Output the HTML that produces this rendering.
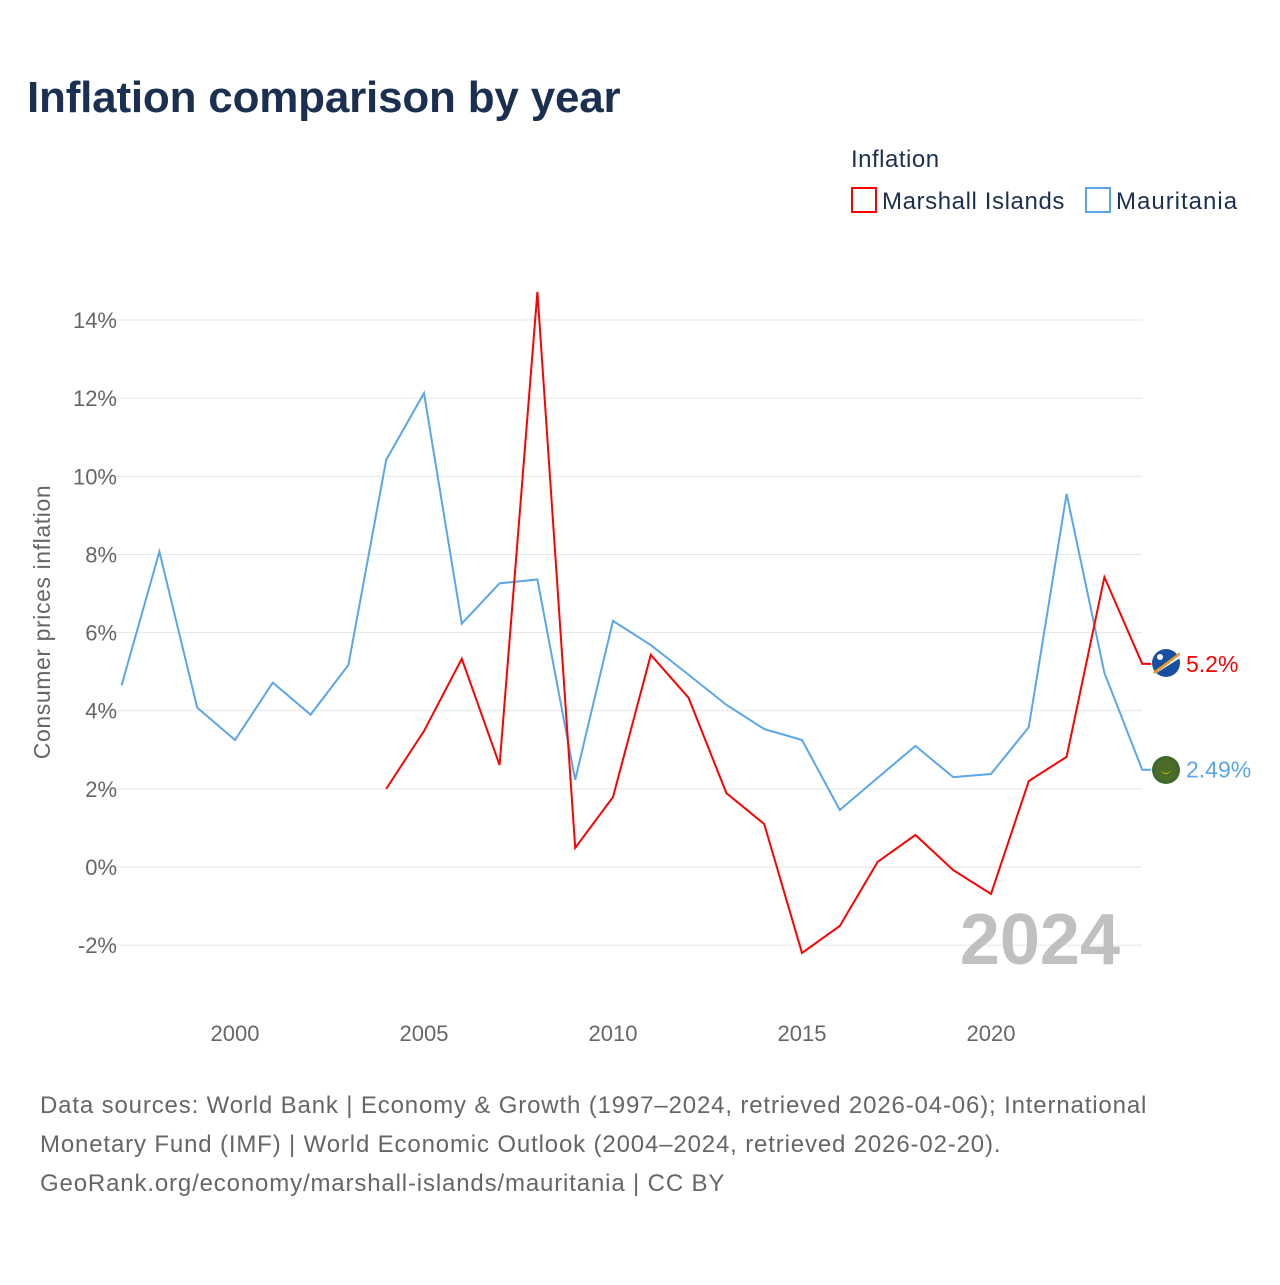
<!DOCTYPE html>
<html><head><meta charset="utf-8">
<style>
body{margin:0;background:#fff;font-family:"Liberation Sans",sans-serif;}
svg text{font-family:"Liberation Sans",sans-serif;}
</style></head>
<body>
<svg width="1280" height="1280" viewBox="0 0 1280 1280">
<text x="27" y="112" font-size="44" font-weight="bold" fill="#1b3050" letter-spacing="-0.2">Inflation comparison by year</text>
<text x="851" y="167" font-size="24" fill="#1b3050" letter-spacing="0.5">Inflation</text>
<g>
<rect x="852" y="188" width="24" height="24" fill="none" stroke="#f00" stroke-width="2"/>
<text x="882" y="209" font-size="24" fill="#1b3050" letter-spacing="0.6">Marshall Islands</text></g>
<g>
<rect x="1086" y="188" width="24" height="24" fill="none" stroke="#5aa6e8" stroke-width="2"/>
<text x="1116" y="209" font-size="24" fill="#1b3050" letter-spacing="1">Mauritania</text></g>
<g id="grid"></g><g id="yt"></g><g id="xt"></g>
<text x="1120" y="964" font-size="72" font-weight="bold" fill="#c0c0c0" text-anchor="end">2024</text>
<g id="lines"></g>
<text transform="translate(50,622) rotate(-90)" font-size="23" fill="#666" text-anchor="middle" letter-spacing="0.6">Consumer prices inflation</text>
<g><circle cx="1166" cy="663" r="14" fill="#1a4fa0"/><path d="M1153 672 L1180 652 L1180 655 L1155 674Z" fill="#f59a1b"/><path d="M1155 674 L1180 655 L1180 658Z" fill="#fff"/><circle cx="1160" cy="657" r="3" fill="#fff"/></g>
<g><circle cx="1166" cy="770" r="14" fill="#3a6b2a"/><circle cx="1166" cy="770" r="11" fill="#4a6b2a"/><path d="M1161 769 a5 5 0 0 0 10 0 a5 4 0 0 1 -10 0Z" fill="#e6c800"/></g>
<text id="lab1" x="1186" y="670" font-size="23" fill="#f00">5.2%</text>
<text id="lab2" x="1186" y="776" font-size="23" fill="#5aa6e8">2.49%</text>
<text font-size="24" fill="#666" letter-spacing="0.85">
<tspan x="40" y="1113">Data sources: World Bank | Economy &amp; Growth (1997–2024, retrieved 2026-04-06); International</tspan>
<tspan x="40" y="1152">Monetary Fund (IMF) | World Economic Outlook (2004–2024, retrieved 2026-02-20).</tspan>
<tspan x="40" y="1191">GeoRank.org/economy/marshall-islands/mauritania | CC BY</tspan></text>
</svg>
<script>
const yTicks=[-2,0,2,4,6,8,10,12,14];
const xTicks=[2000,2005,2010,2015,2020];
const mauYears=[1997,1998,1999,2000,2001,2002,2003,2004,2005,2006,2007,2008,2009,2010,2011,2012,2013,2014,2015,2016,2017,2018,2019,2020,2021,2022,2023,2024];
const mauValues=[4.65,8.07,4.08,3.25,4.72,3.9,5.17,10.42,12.13,6.23,7.26,7.36,2.23,6.3,5.68,4.92,4.15,3.53,3.25,1.46,2.28,3.1,2.3,2.38,3.58,9.55,4.97,2.49];
const mhlYears=[2004,2005,2006,2007,2008,2009,2010,2011,2012,2013,2014,2015,2016,2017,2018,2019,2020,2021,2022,2023,2024];
const mhlValues=[2.0,3.48,5.33,2.61,14.72,0.49,1.79,5.43,4.33,1.89,1.1,-2.2,-1.51,0.13,0.82,-0.08,-0.69,2.2,2.82,7.42,5.2];
const NS='http://www.w3.org/2000/svg';
const X=y=>235+(y-2000)*37.8;
const Y=v=>867-v*39.07;
function mk(t,a,p){const e=document.createElementNS(NS,t);for(const k in a)e.setAttribute(k,a[k]);document.getElementById(p).appendChild(e);return e;}
yTicks.forEach(v=>{
 const l=mk('line',{x1:105,x2:1142,y1:Y(v),y2:Y(v),stroke:'#e6e6e6','stroke-width':1},'grid');
 
 
 const t=mk('text',{x:117,y:Y(v)+8,'font-size':22,fill:'#666','text-anchor':'end'},'yt');
 t.textContent=v+'%';
 
 
});
xTicks.forEach(y=>{
 const t=mk('text',{x:X(y),y:1041,'font-size':22,fill:'#666','text-anchor':'middle'},'xt');
 t.textContent=y;
 
 
});
function line(ys,vs,c,n,lab){
 const p=mk('polyline',{points:ys.map((y,i)=>X(y)+','+Y(vs[i])).join(' ')+' '+(X(ys[ys.length-1])+9)+','+Y(vs[vs.length-1]),fill:'none',stroke:c,'stroke-width':2},'lines');
 
 
 const L=document.getElementById(lab);L.setAttribute('y',Y(vs[vs.length-1])+8);L.textContent=vs[vs.length-1]+'%';
}
line(mauYears,mauValues,'#5aa6e8','line-mauritania','lab2');
line(mhlYears,mhlValues,'#f00','line-marshall-islands','lab1');
</script>
</body></html>
